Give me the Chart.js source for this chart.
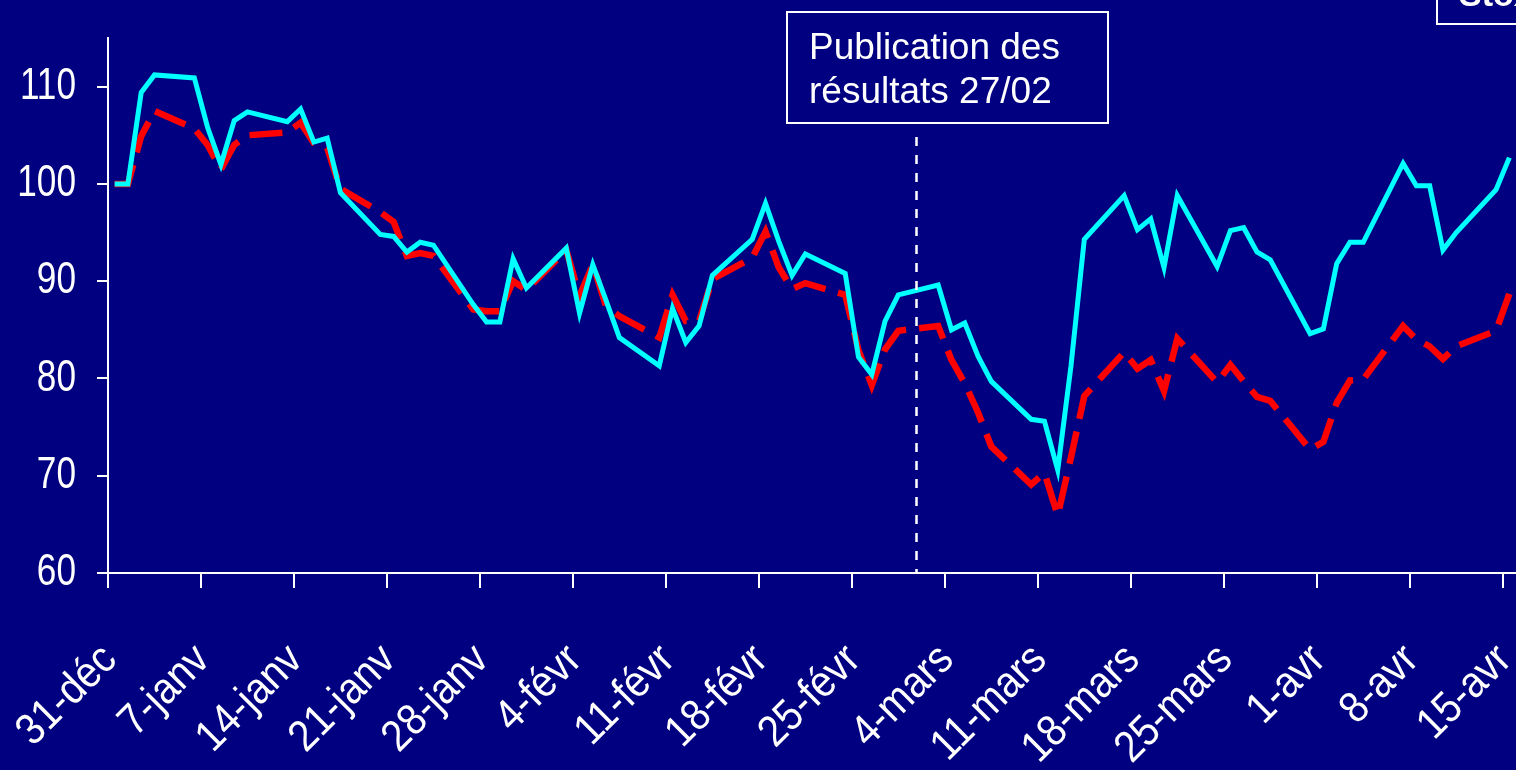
<!DOCTYPE html>
<html>
<head>
<meta charset="utf-8">
<script src="https://cdn.jsdelivr.net/npm/chart.js@4.4.1/dist/chart.umd.min.js"></script>
<style>
  html, body { margin: 0; padding: 0; background: #000080; }
  canvas { display: block; }
</style>
</head>
<body>
<canvas id="stockChart" width="1516" height="770"></canvas>
<script>
// trading days, 31 dec 2002 -> 15 apr 2003
const dates = [
  '2002-12-31', '2003-01-01', '2003-01-02', '2003-01-03',
  '2003-01-06', '2003-01-07', '2003-01-08', '2003-01-09', '2003-01-10',
  '2003-01-13', '2003-01-14', '2003-01-15', '2003-01-16', '2003-01-17',
  '2003-01-20', '2003-01-21', '2003-01-22', '2003-01-23', '2003-01-24',
  '2003-01-27', '2003-01-28', '2003-01-29', '2003-01-30', '2003-01-31',
  '2003-02-03', '2003-02-04', '2003-02-05', '2003-02-06', '2003-02-07',
  '2003-02-10', '2003-02-11', '2003-02-12', '2003-02-13', '2003-02-14',
  '2003-02-17', '2003-02-18', '2003-02-19', '2003-02-20', '2003-02-21',
  '2003-02-24', '2003-02-25', '2003-02-26', '2003-02-27', '2003-02-28',
  '2003-03-03', '2003-03-04', '2003-03-05', '2003-03-06', '2003-03-07',
  '2003-03-10', '2003-03-11', '2003-03-12', '2003-03-13', '2003-03-14',
  '2003-03-17', '2003-03-18', '2003-03-19', '2003-03-20', '2003-03-21',
  '2003-03-24', '2003-03-25', '2003-03-26', '2003-03-27', '2003-03-28',
  '2003-03-31', '2003-04-01', '2003-04-02', '2003-04-03', '2003-04-04',
  '2003-04-07', '2003-04-08', '2003-04-09', '2003-04-10', '2003-04-11',
  '2003-04-14', '2003-04-15'
];

// cyan line (base 100)
const shareValues = [
  100.0, 100.0, 109.4, 111.2,
  110.9, 105.8, 102.0, 106.5, 107.4,
  106.4, 107.7, 104.3, 104.7, 99.1,
  94.8, 94.6, 93.0, 94.0, 93.7,
  87.6, 85.8, 85.8, 92.3, 89.3,
  93.4, 86.7, 91.7, 88.0, 84.2,
  81.3, 87.2, 83.7, 85.4, 90.6,
  94.3, 98.0, 94.1, 90.6, 92.8,
  90.8, 82.2, 80.4, 85.9, 88.6,
  89.6, 85.0, 85.7, 82.3, 79.7,
  75.8, 75.6, 70.6, 81.3, 94.3,
  98.8, 95.3, 96.4, 91.4, 98.8,
  91.5, 95.2, 95.5, 93.0, 92.2,
  84.6, 85.1, 91.8, 94.0, 94.0,
  102.1, 99.8, 99.8, 93.2, 95.0,
  99.4, 102.7
];

// red dashed line (base 100)
const indexValues = [
  100.0, 100.0, 104.9, 107.5,
  105.7, 104.0, 101.5, 104.0, 105.0,
  105.3, 106.3, 104.2, 103.7, 99.5,
  97.1, 96.1, 92.6, 92.9, 92.6,
  87.1, 86.9, 86.9, 90.0, 89.1,
  93.2, 88.5, 91.7, 87.4, 86.4,
  84.2, 88.6, 85.9, 85.9, 90.2,
  92.4, 95.1, 91.4, 89.2, 89.8,
  88.6, 82.9, 79.3, 83.0, 84.9,
  85.4, 81.9, 79.5, 76.5, 73.0,
  69.1, 70.3, 65.9, 71.9, 78.2,
  82.7, 81.0, 81.9, 78.7, 84.1,
  79.6, 81.4, 79.7, 78.1, 77.7,
  72.7, 73.5, 77.5, 79.8, 79.9,
  85.4, 84.0, 83.3, 82.0, 83.3,
  84.9, 88.7
];

const tickDates = [
  '2002-12-31', '2003-01-07', '2003-01-14', '2003-01-21', '2003-01-28',
  '2003-02-04', '2003-02-11', '2003-02-18', '2003-02-25', '2003-03-04',
  '2003-03-11', '2003-03-18', '2003-03-25', '2003-04-01', '2003-04-08',
  '2003-04-15'
];
const tickLabels = [
  '31-déc', '7-janv', '14-janv', '21-janv', '28-janv',
  '4-févr', '11-févr', '18-févr', '25-févr', '4-mars',
  '11-mars', '18-mars', '25-mars', '1-avr', '8-avr',
  '15-avr'
];
const yTicks = [60, 70, 80, 90, 100, 110];

const startDay = Date.UTC(2002, 11, 31);
const dayOf = s => (Date.parse(s + 'T00:00:00Z') - startDay) / 86400000;

const publicationDay = 60.8;
const labelFont = "44px 'Liberation Sans', Arial, sans-serif";

// narrow tick labels (the original uses a condensed face)
const narrowLabels = {
    id: 'narrowLabels',
    afterDraw(chart) {
        const { ctx, scales: { x, y } } = chart;
        ctx.save();
        ctx.fillStyle = '#ffffff';
        ctx.font = labelFont;
        ctx.textAlign = 'right';
        ctx.textBaseline = 'middle';
        yTicks.forEach(v => {
            ctx.save();
            ctx.translate(y.left + y.width - 32, y.getPixelForValue(v));
            ctx.scale(0.8, 1);
            ctx.fillText(String(v), 0, 0);
            ctx.restore();
        });
        tickDates.forEach((d, i) => {
            ctx.save();
            ctx.translate(x.getPixelForValue(dayOf(d)) + 2, x.top + 80);
            ctx.rotate(-Math.PI / 4);
            ctx.scale(0.9, 1);
            ctx.fillText(tickLabels[i], 0, 0);
            ctx.restore();
        });
        ctx.restore();
    }
};

const annotations = {
    id: 'annotations',
    afterDraw(chart) {
        const { ctx, scales: { x, y } } = chart;
        const px = Math.round(x.getPixelForValue(publicationDay)) + 0.5;
        ctx.save();
        ctx.strokeStyle = '#ffffff';
        ctx.lineWidth = 2.5;
        ctx.setLineDash([9, 9]);
        ctx.beginPath();
        ctx.moveTo(px, 137);
        ctx.lineTo(px, y.bottom);
        ctx.stroke();
        ctx.setLineDash([]);

        ctx.lineWidth = 2;
        ctx.strokeRect(787, 12, 321, 111);
        ctx.fillStyle = '#ffffff';
        ctx.font = "37px 'Liberation Sans', Arial, sans-serif";
        ctx.fillText('Publication des', 809, 59);
        ctx.fillText('résultats 27/02', 809, 103);

        // legend box, cut off by the frame
        ctx.strokeRect(1437, -10, 120, 34);
        ctx.font = "bold 34px 'Liberation Sans', Arial, sans-serif";
        ctx.fillText('Stoxx', 1459, 6);
        ctx.restore();
    }
};

const ctx = document.getElementById('stockChart').getContext('2d');

new Chart(ctx, {
    type: 'line',
    data: {
        datasets: [
            {
                label: 'Action',
                data: dates.map((d, i) => ({ x: dayOf(d) + 0.5, y: shareValues[i] })),
                borderColor: '#00ffff',
                borderWidth: 5,
                pointRadius: 0,
                tension: 0
            },
            {
                label: 'Indice',
                data: dates.map((d, i) => ({ x: dayOf(d) + 0.5, y: indexValues[i] })),
                borderColor: '#ff0000',
                borderWidth: 6.5,
                borderDash: [33, 13],
                pointRadius: 0,
                tension: 0
            }
        ]
    },
    options: {
        responsive: false,
        animation: false,
        layout: { padding: { top: 38, left: 0, right: 0, bottom: 0 } },
        plugins: {
            legend: { display: false },
            tooltip: { enabled: false }
        },
        scales: {
            x: {
                type: 'linear',
                min: 0,
                max: 106,
                afterBuildTicks: s => { s.ticks = tickDates.map(d => ({ value: dayOf(d) })); },
                afterFit: s => { s.height = 197; s.paddingLeft = 0; s.paddingRight = 0; },
                grid: { drawOnChartArea: false, color: '#ffffff', lineWidth: 2, tickLength: 15 },
                border: { color: '#ffffff', width: 2 },
                ticks: { display: false }
            },
            y: {
                min: 60,
                max: 115,
                afterBuildTicks: s => { s.ticks = yTicks.map(v => ({ value: v })); },
                afterFit: s => { s.width = 108; s.paddingTop = 0; s.paddingBottom = 0; },
                grid: { drawOnChartArea: false, color: '#ffffff', lineWidth: 2, tickLength: 11 },
                border: { color: '#ffffff', width: 2 },
                ticks: { display: false }
            }
        }
    },
    plugins: [narrowLabels, annotations]
});
</script>
</body>
</html>
